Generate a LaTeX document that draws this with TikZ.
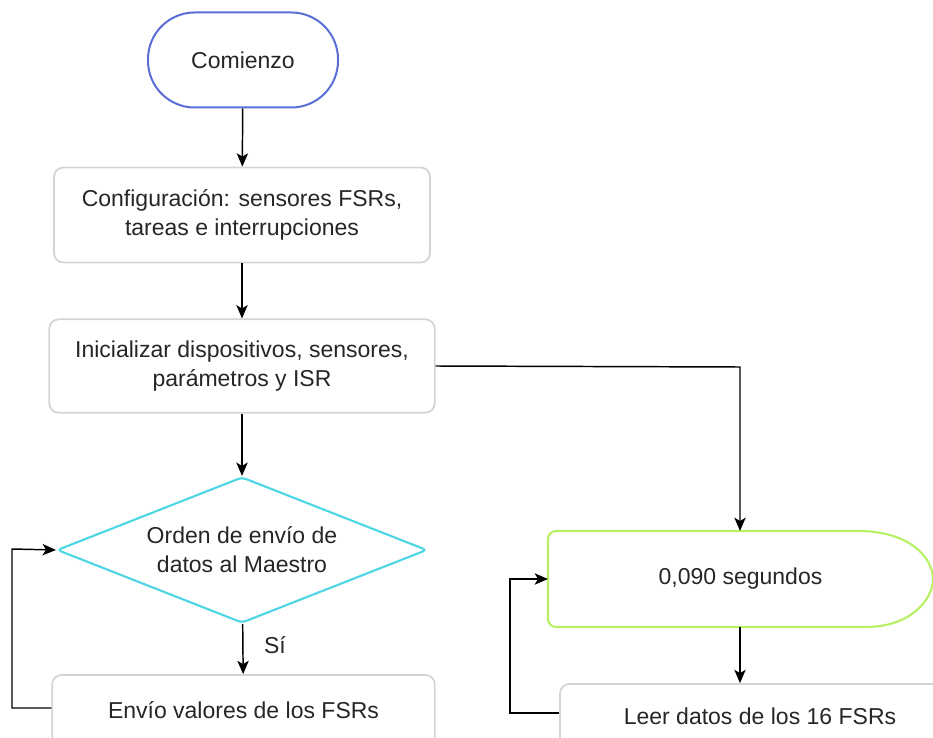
\documentclass[tikz,border=0pt]{standalone}
\usepackage{fontspec}
\setmainfont{Liberation Sans}
\usetikzlibrary{shapes.geometric,arrows,arrows.meta,positioning}
\definecolor{startblue}{HTML}{5A6ED6}
\definecolor{askcyan}{HTML}{4FD6E4}
\definecolor{waitgreen}{HTML}{B8F064}
\definecolor{boxgray}{HTML}{D4D4D4}
\definecolor{txt}{HTML}{262626}

\begin{document}
\begin{tikzpicture}[x=0.75pt,y=-0.75pt]
\tikzstyle{every node}=[font=\fontsize{17.25}{21.75}\selectfont,text=txt,align=center]
\tikzstyle{term}=[rectangle,rounded corners=35pt,draw=startblue,line width=1.5pt,
minimum width=142.5pt,minimum height=71.25pt]
\tikzstyle{box}=[rectangle,rounded corners=7pt,draw=boxgray,line width=1.3pt,
minimum height=71.25pt]
\tikzstyle{ask}=[diamond,shape aspect=2.53,rounded corners=3pt,draw=askcyan,line width=1.6pt,
minimum width=277.5pt,minimum height=109.5pt,inner sep=0pt]
\tikzstyle{line}=[draw=black,line width=1.1pt,>={Stealth[length=10pt,width=8.5pt,inset=2.5pt]}]
\useasboundingbox (0,0) rectangle (933,738);

\node[term] at (243,60) (start) {Comienzo};
\node[box,minimum width=282pt] at (242,215) (config)
{Configuración: sensores FSRs,\\tareas e interrupciones};
\node[box,minimum width=289pt,minimum height=70pt] at (242,366) (init)
{Inicializar dispositivos, sensores,\\parámetros y ISR};
\node[ask] at (242,550) (order) {Orden de envío de\\datos al Maestro};
\node[box,minimum width=287pt,minimum height=52.5pt] at (243.5,710) (send)
{Envío valores de los FSRs};
\node at (275,645) (yes) {Sí};

% espera de 0,090 s (forma de retardo)
\node[minimum width=288.75pt,minimum height=72pt] at (740.5,579) (wait) {0,090 segundos};
\draw[draw=waitgreen,line width=1.6pt,rounded corners=6pt]
(858,531) -- (548,531) -- (548,627) -- (858,627) [sharp corners]
.. controls (910,627) and (933,600) .. (933,579)
.. controls (933,558) and (910,531) .. (858,531) -- cycle;
\node[box,minimum width=300pt,minimum height=48pt] at (760,716) (read)
{Leer datos de los 16 FSRs};

\coordinate (loopA1) at (12,708);
\coordinate (loopA2) at (12,549);
\coordinate (loopB1) at (510,713);
\coordinate (loopB2) at (510,579);
\coordinate (turn) at (740,367);
\coordinate (waitin) at (740,531);
\coordinate (waitout) at (740,627);

\path[line,->] (start) edge (config) ;
\path[line,->] (config) edge (init) ;
\path[line,->] (init) edge (order) ;
\path[line,->] (order) edge (send) ;
\draw[line,->] (init.east) -- (turn) -- (waitin) ;
\draw[line,->] (waitout) -- (read.north -| waitout) ;
\draw[line,->] (send.west |- loopA1) -- (loopA1) -- (loopA2) -- (order.west) ;
\draw[line,->] (read.west |- loopB1) -- (loopB1) -- (loopB2) -- (548,579) ;

\end{tikzpicture}
\end{document}
